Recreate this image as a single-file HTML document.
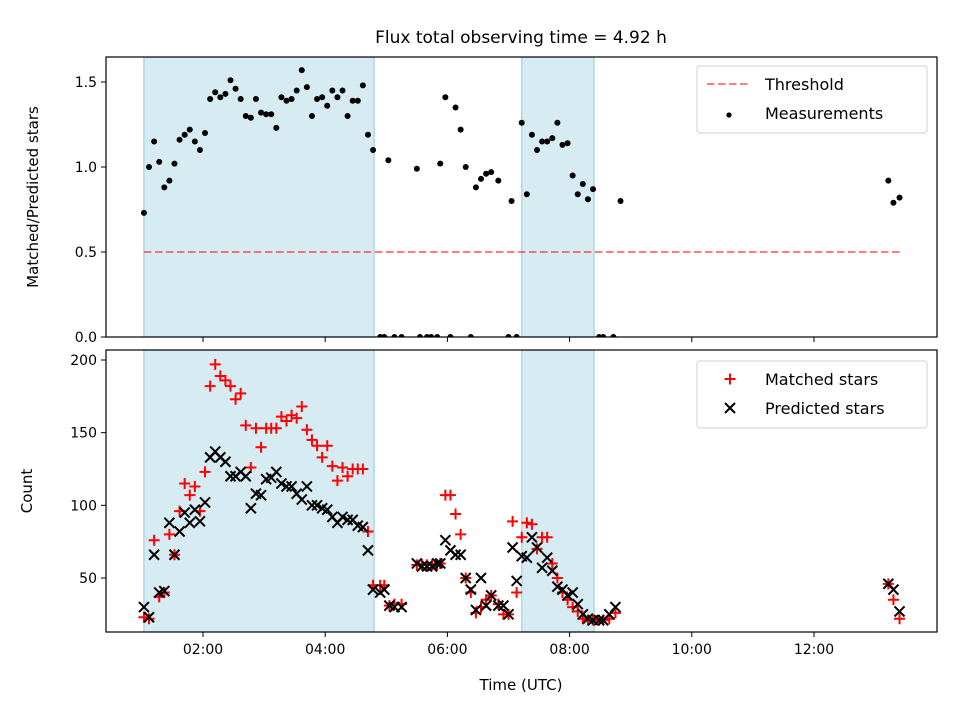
<!DOCTYPE html>
<html><head><meta charset="utf-8"><style>
html,body{margin:0;padding:0;background:#fff;}
svg{display:block;font-family:"DejaVu Sans","Liberation Sans",sans-serif;}
</style></head><body>
<svg id="chart" width="960" height="720" viewBox="0 0 960 720" xmlns="http://www.w3.org/2000/svg">
<rect width="960" height="720" fill="#fff"/>
<text x="521" y="43" font-size="17" text-anchor="middle">Flux total observing time = 4.92 h</text>
<g id="topPanel"></g>
<g id="botPanel"></g>
</svg>
<script>
// times in minutes since 00:00 UTC
const ratioTimes = [62,67,72,77,82,87,92,97,102,107,112,117,122,127,132,137,142,147,152,157,162,167,172,177,182,187,192,197,202,207,212,217,222,227,232,237,242,247,252,257,262,267,272,277,282,287,
294,298,302,308,315,330,333,340,344,350,353,358,363,368,373,378,383,388,393,398,403,410,420,423,428,433,438,443,448,453,458,463,468,473,478,483,488,493,498,503,509,513,523,530,793,798,804];
const ratioValues = [0.73,1.00,1.15,1.03,0.88,0.92,1.02,1.16,1.19,1.22,1.15,1.10,1.20,1.40,1.44,1.41,1.43,1.51,1.46,1.40,1.30,1.29,1.40,1.32,1.31,1.31,1.23,1.41,1.39,1.40,1.45,1.57,1.47,1.30,1.40,1.41,1.36,1.45,1.41,1.45,1.30,1.39,1.39,1.48,1.19,1.10,
0,0,1.04,0,0,0.99,0,0,0,0,1.02,1.41,0,1.35,1.22,1.00,0,0.88,0.93,0.96,0.97,0.92,0,0.80,0,1.26,0.84,1.19,1.10,1.15,1.15,1.17,1.26,1.13,1.14,0.95,0.84,0.90,0.81,0.87,0,0,0,0.80,0.92,0.79,0.82];
const countTimes = [62,67,72,77,82,87,92,97,102,107,112,117,122,127,132,137,142,147,152,157,162,167,172,177,182,187,192,197,202,207,212,217,222,227,232,237,242,247,252,257,262,267,272,277,282,287,
294,298,303,308,315,330,335,340,345,350,353,358,363,368,373,378,383,388,393,398,403,410,415,420,424,428,433,438,443,448,453,458,463,468,473,478,483,488,493,498,503,509,513,519,525,793,798,804];
const matchedValues = [23,22,76,37,40,80,66,96,115,107,113,96,123,182,197,189,186,182,173,177,155,126,153,140,153,153,153,161,158,162,160,168,152,145,141,133,141,127,117,126,120,125,125,125,82,45,
45,45,31,32,32,59,59,59,59,59,60,107,107,94,80,50,40,26,30,35,38,32,25,25,89,40,78,88,87,70,78,78,60,50,40,35,30,27,22,21,21,21,21,22,26,46,35,22];
const predictedValues = [30,23,66,40,41,88,66,82,95,88,97,89,102,133,137,133,130,120,120,123,120,98,108,107,118,119,123,115,113,113,108,104,113,100,100,98,97,92,88,92,90,90,86,85,69,42,
40,42,31,30,30,60,58,58,58,60,60,76,69,66,66,50,42,28,50,31,38,31,31,25,71,48,65,64,78,71,57,64,55,44,42,38,40,32,25,22,21,21,21,25,30,46,42,27];
const shadeSpans = [[62,288],[433,504]];
const threshold = 0.5, thresholdStart = 62, thresholdEnd = 805;
const xTicks = [120,240,360,480,600,720];
const xTickLabels = ["02:00","04:00","06:00","08:00","10:00","12:00"];
const ratioTicks = [0,0.5,1.0,1.5];
const ratioTickLabels = ["0.0","0.5","1.0","1.5"];
const countTicks = [50,100,150,200];
const countTickLabels = ["50","100","150","200"];

const NS="http://www.w3.org/2000/svg";
const L=106,R=937;
const T1=57,B1=337,T2=350,B2=632;
const xs=m=>80.8+m*61.1/60;
const y1=v=>337-v*170;
const y2=v=>578-(v-50)*1.4533;
function mk(parent,tag,attrs){const e=document.createElementNS(NS,tag);for(const k in attrs)e.setAttribute(k,attrs[k]);parent.appendChild(e);return e;}
const topG=document.getElementById('topPanel'), botG=document.getElementById('botPanel');

function panel(g,T,B,ys,ticks,labels,ylabel,showX,nm){
  const clipId='clip'+nm;
  const cp=mk(g,'clipPath',{id:clipId});mk(cp,'rect',{x:L,y:T,width:R-L,height:B-T});
  const data=mk(g,'g',{'clip-path':'url(#'+clipId+')'});
  
  
  shadeSpans.forEach(s=>{
    const r=mk(data,'rect',{x:xs(s[0]),y:T,width:xs(s[1])-xs(s[0]),height:B-T,fill:'#add8e6','fill-opacity':0.5,stroke:'#add8e6','stroke-width':1.5});
    
    
  });
  ticks.forEach((t,i)=>{
    const y=ys(t);
    const ln=mk(g,'line',{x1:L-5,x2:L,y1:y,y2:y,stroke:'#000','stroke-width':1});
    
    
    const tx=mk(g,'text',{x:L-9,y:y+5,'font-size':14,'text-anchor':'end'});tx.textContent=labels[i];
    
    
  });
  xTicks.forEach((t,i)=>{
    const x=xs(t);
    const ln=mk(g,'line',{x1:x,x2:x,y1:B,y2:B+5,stroke:'#000','stroke-width':1});
    
    
    if(showX){const tx=mk(g,'text',{x:x,y:B+22,'font-size':14,'text-anchor':'middle'});tx.textContent=xTickLabels[i];
      
      }
  });
  const yl=mk(g,'text',{x:0,y:0,'font-size':15,'text-anchor':'middle',transform:`translate(${showX?32:38},${(T+B)/2}) rotate(-90)`});yl.textContent=ylabel;
  
  
  return data;
}
const d1=panel(topG,T1,B1,y1,ratioTicks,ratioTickLabels,'Matched/Predicted stars',false,'ratio');
const d2=panel(botG,T2,B2,y2,countTicks,countTickLabels,'Count',true,'count');

const th=mk(d1,'line',{x1:xs(thresholdStart),x2:xs(thresholdEnd),y1:y1(threshold),y2:y1(threshold),stroke:'#ff0000','stroke-opacity':0.5,'stroke-width':2,'stroke-dasharray':'7.5,3.5'});


ratioTimes.forEach((t,i)=>{
  const c=mk(d1,'circle',{cx:xs(t),cy:y1(ratioValues[i]),r:3,fill:'#000'});
  
  
});
countTimes.forEach((t,i)=>{
  const x=xs(t),y=y2(matchedValues[i]);
  const p=mk(d2,'path',{d:`M${x-5.5},${y}H${x+5.5}M${x},${y-5.5}V${y+5.5}`,stroke:'#ff0000','stroke-width':2});
  
  
});
countTimes.forEach((t,i)=>{
  const x=xs(t),y=y2(predictedValues[i]);
  const p=mk(d2,'path',{d:`M${x-5},${y-5}L${x+5},${y+5}M${x-5},${y+5}L${x+5},${y-5}`,stroke:'#000','stroke-width':2});
  
  
});
[[T1,B1,topG],[T2,B2,botG]].forEach(a=>{
  const r=mk(a[2],'rect',{x:L,y:a[0],width:R-L,height:a[1]-a[0],fill:'none',stroke:'#000','stroke-width':1.2});
  
  
});
const xl=mk(botG,'text',{x:521,y:690,'font-size':15,'text-anchor':'middle'});xl.textContent='Time (UTC)';



function legend(g,y0,items,nm){
  const lg=mk(g,'g',{});
  
  
  mk(lg,'rect',{x:697,y:y0,width:230,height:67,rx:3,fill:'#fff','fill-opacity':0.8,stroke:'#d0d0d0','stroke-width':1});
  items.forEach((it,i)=>{
    const cy=y0+18+i*29;
    it.draw(lg,731,cy);
    const tx=mk(lg,'text',{x:765,y:cy+6,'font-size':16});tx.textContent=it.label;
    
    
  });
}
legend(topG,66,[
 {label:'Threshold',draw:(g,x,y)=>{mk(g,'line',{x1:x-24,x2:x+18,y1:y,y2:y,stroke:'#ff0000','stroke-opacity':0.5,'stroke-width':2,'stroke-dasharray':'7.5,3.5'});}},
 {label:'Measurements',draw:(g,x,y)=>{mk(g,'circle',{cx:x-2,cy:y+2,r:2.6,fill:'#000'});}}
],'ratio-legend');
legend(botG,361,[
 {label:'Matched stars',draw:(g,x,y)=>{mk(g,'path',{d:`M${x-6.5},${y}H${x+4.5}M${x-1},${y-5.5}V${y+5.5}`,stroke:'#ff0000','stroke-width':2});}},
 {label:'Predicted stars',draw:(g,x,y)=>{mk(g,'path',{d:`M${x-6},${y-5}L${x+4},${y+5}M${x-6},${y+5}L${x+4},${y-5}`,stroke:'#000','stroke-width':2});}}
],'count-legend');
</script>
</body></html>
